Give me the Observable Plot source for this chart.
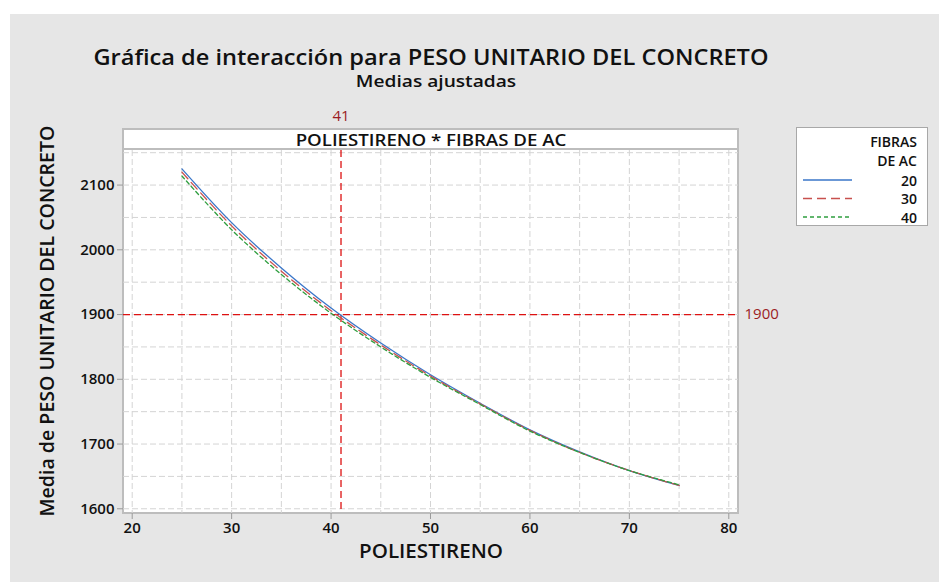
<!DOCTYPE html>
<html><head><meta charset="utf-8">
<script src="https://cdn.jsdelivr.net/npm/d3@7"></script>
<script src="https://cdn.jsdelivr.net/npm/@observablehq/plot@0.6"></script>
<style>
body{margin:0;width:939px;height:583px;position:relative;overflow:hidden;background:#fff;font-family:"Open Sans",sans-serif;color:#111;}
.abs{position:absolute;}
#bg{left:10px;top:14px;width:929px;height:568px;background:#e6e6e6;}
#panel{left:122px;top:128px;width:613px;height:382px;background:#fff;border:2px solid #bdbdbd;}
#sep{left:122px;top:148px;width:617px;height:2px;background:#bdbdbd;}
#chart{left:0;top:0;}
.t{position:absolute;white-space:nowrap;line-height:1;transform-origin:50% 50%;}
#legend{left:796px;top:127px;}
</style>
</head><body>
<div id="bg" class="abs"></div>
<div id="panel" class="abs"></div>
<div id="sep" class="abs"></div>
<div id="chart" class="abs"></div>
<div class="t" data-cx="430.5" data-cy="57" data-w="675" style="font-size:21px;font-weight:600">Gráfica de interacción para PESO UNITARIO DEL CONCRETO</div>
<div class="t" data-cx="436" data-cy="80" data-w="160" style="font-size:17px;font-weight:600">Medias ajustadas</div>
<div class="t" data-cx="431" data-cy="139" data-w="271" style="font-size:17px;font-weight:600">POLIESTIRENO * FIBRAS DE AC</div>
<div class="t" data-cx="46.5" data-cy="321" data-w="391" data-rot="1" style="font-size:19px;font-weight:600">Media de PESO UNITARIO DEL CONCRETO</div>
<div class="t" data-cx="431" data-cy="551" data-w="144" style="font-size:19px;font-weight:600">POLIESTIRENO</div>
<div id="legend" class="abs"></div>
<script>
// ---- data ----
const poliestireno = [25, 30, 35, 40, 45, 50, 55, 60, 65, 70, 75];
const fibras20 = [2125, 2042, 1972, 1910, 1856, 1807, 1763, 1722, 1688, 1659, 1636];
const fibras30 = [2120, 2037, 1967, 1906, 1853, 1805, 1762, 1721, 1687, 1659, 1636];
const fibras40 = [2114, 2031, 1962, 1902, 1850, 1803, 1761, 1720, 1687, 1659, 1637];
const seriesNames = ["20", "30", "40"];
const xTicks = [20, 30, 40, 50, 60, 70, 80];
const yTicks = [1600, 1700, 1800, 1900, 2000, 2100];
const xGrid = [20, 25, 30, 35, 40, 45, 50, 55, 60, 65, 70, 75, 80];
const yGrid = [1600, 1650, 1700, 1750, 1800, 1850, 1900, 1950, 2000, 2050, 2100, 2150];
const refX = [41];
const refY = [1900];

// ---- styles ----
const seriesValues = [fibras20, fibras30, fibras40];
const colors = ["#3a76c9", "#c8504e", "#2f9e3f"];
const dashes = [null, "9,5", "4,3"];
const refColor = "#dd1111";
const refText = "#9b1c24";
const gridStyle = {stroke: "#d4d4d4", strokeWidth: 1, strokeDasharray: "6,3"};

const lineMarks = seriesValues.map((vals, k) =>
  Plot.line(poliestireno.map((p, i) => ({x: p, y: vals[i]})), {
    x: "x", y: "y", stroke: colors[k], strokeWidth: 1.3,
    strokeDasharray: dashes[k] || undefined, curve: "catmull-rom"
  })
);

const plot = Plot.plot({
  width: 939, height: 583,
  marginTop: 150, marginBottom: 70, marginLeft: 123, marginRight: 201,
  style: {fontFamily: '"Open Sans", sans-serif', fontSize: "15px", fontWeight: 600, color: "#111", background: "transparent", overflow: "visible"},
  x: {domain: [19.125, 80.976]},
  y: {domain: [1592.7, 2153.4]},
  marks: [
    Plot.ruleX(xGrid, gridStyle),
    Plot.ruleY(yGrid, gridStyle),
    Plot.ruleX(refX, {stroke: refColor, strokeWidth: 1.3, strokeDasharray: "7,4"}),
    Plot.ruleY(refY, {stroke: refColor, strokeWidth: 1.3, strokeDasharray: "7,4"}),
    ...lineMarks,
    Plot.axisX(xTicks, {tickSize: 6, tickPadding: 3, stroke: "#9a9a9a", fill: "#111", label: null, fontSize: 15, tickFormat: d => String(d)}),
    Plot.axisY(yTicks, {tickSize: 6, tickPadding: 3, stroke: "#9a9a9a", fill: "#111", label: null, fontSize: 15, tickFormat: d => String(d)}),
    Plot.text(refX, {x: d => d, text: d => String(d), frameAnchor: "top", lineAnchor: "middle", dy: -34, fill: refText, fontSize: 15, fontWeight: 500}),
    Plot.text(refY, {y: d => d, text: d => String(d), frameAnchor: "right", textAnchor: "start", dx: 6, fill: refText, fontSize: 15, fontWeight: 500})
  ]
});
document.getElementById("chart").appendChild(plot);

// ---- legend ----
const lg = d3.select("#legend").append("svg").attr("width", 133).attr("height", 100).style("display", "block");
lg.append("rect").attr("x", 0.5).attr("y", 0.5).attr("width", 131).attr("height", 98).attr("fill", "#fff").attr("stroke", "#a8a8a8");
const lt = {"font-family": '"Open Sans", sans-serif', "font-size": 14, "font-weight": 600, "fill": "#111", "text-anchor": "end", "dominant-baseline": "central"};
function ltext(s, y){ const t = lg.append("text").attr("x", 121).attr("y", y).text(s); for (const k in lt) t.attr(k, lt[k]); }
ltext("FIBRAS", 14);
ltext("DE AC", 33);
seriesNames.forEach((n, k) => {
  const y = 53 + k * 18.5;
  ltext(n, y);
  lg.append("line").attr("x1", 7).attr("x2", 56).attr("y1", y).attr("y2", y)
    .attr("stroke", colors[k]).attr("stroke-width", 1.3).attr("stroke-dasharray", dashes[k]);
});

// ---- fit text ----
document.querySelectorAll(".t").forEach(el => {
  const w = +el.dataset.w;
  const k = w / el.offsetWidth;
  el.style.left = el.dataset.cx + "px";
  el.style.top = el.dataset.cy + "px";
  el.style.transform = `translate(-50%,-50%) ${el.dataset.rot ? "rotate(-90deg) " : ""}scaleX(${k})`;
});
</script>
</body></html>
